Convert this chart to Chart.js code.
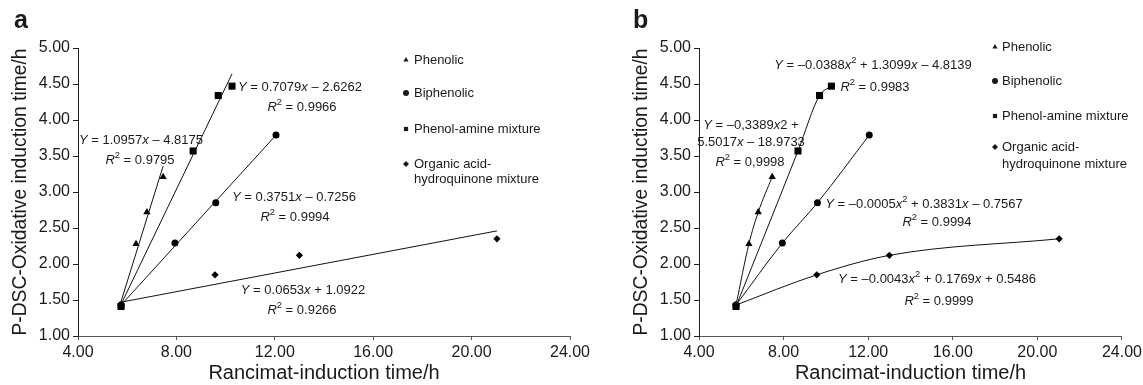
<!DOCTYPE html>
<html>
<head>
<meta charset="utf-8">
<script src="https://cdn.jsdelivr.net/npm/chart.js@4"></script>
<style>
  html, body { margin: 0; padding: 0; background: #fff; overflow: hidden; }
  body { width: 1143px; height: 385px; position: relative; }
  canvas { position: absolute; top: 0; }
  #chartA { left: 0; }
  #chartB { left: 600px; }
</style>
</head>
<body>
<canvas id="chartA" width="600" height="385"></canvas>
<canvas id="chartB" width="545" height="385"></canvas>
<script>
// tick values
const xTicks = [4, 8, 12, 16, 20, 24];
const yTicks = [1, 1.5, 2, 2.5, 3, 3.5, 4, 4.5, 5];

// series names
const seriesNames = ["Phenolic", "Biphenolic", "Phenol-amine mixture", "Organic acid-hydroquinone mixture"];
const legendLines = [["Phenolic"], ["Biphenolic"], ["Phenol-amine mixture"], ["Organic acid-", "hydroquinone mixture"]];

// measured points (Rancimat x, P-DSC y)
const phenolicX = [5.75, 6.36, 6.8, 7.46];
const phenolicY = [1.43, 2.28, 2.72, 3.21];
const biphenolicX = [5.75, 7.94, 9.6, 12.05];
const biphenolicY = [1.43, 2.29, 2.85, 3.79];
const phenolAmineX = [5.75, 8.68, 9.7, 10.26];
const phenolAmineY = [1.41, 3.57, 4.34, 4.47];
const organicX = [5.75, 9.57, 13.0, 21.03];
const organicY = [1.43, 1.85, 2.12, 2.35];

// linear trend lines of panel a, end points
const phenolicLineX = [5.75, 7.46];
const phenolicLineY = [1.48, 3.36];
const biphenolicLineX = [5.75, 12.05];
const biphenolicLineY = [1.43, 3.79];
const phenolAmineLineX = [5.75, 10.26];
const phenolAmineLineY = [1.44, 4.64];
const organicLineX = [5.75, 21.03];
const organicLineY = [1.47, 2.46];

const textColor = "#1a1a1a";
const FONT = '"Liberation Sans", Arial, sans-serif';
Chart.defaults.font.family = FONT;

const pts = (xs, ys) => xs.map((x, i) => ({ x: x, y: ys[i] }));

const styles = [
  { pointStyle: "triangle", radius: 4.2, order: 3 },
  { pointStyle: "circle", radius: 3.5, order: 2 },
  { pointStyle: "rect", radius: 5, order: 0 },
  { pointStyle: "rectRot", radius: 3.6, order: 1 }
];

const pointSets = [
  pts(phenolicX, phenolicY),
  pts(biphenolicX, biphenolicY),
  pts(phenolAmineX, phenolAmineY),
  pts(organicX, organicY)
];
const lineSets = [
  pts(phenolicLineX, phenolicLineY),
  pts(biphenolicLineX, biphenolicLineY),
  pts(phenolAmineLineX, phenolAmineLineY),
  pts(organicLineX, organicLineY)
];

// rich text: *..* italic, ^c superscript
function drawRich(ctx, str, cx, cy, size) {
  const parts = [];
  let italic = false;
  for (let i = 0; i < str.length; i++) {
    const ch = str[i];
    if (ch === "*") { italic = !italic; continue; }
    if (ch === "^") { parts.push({ t: str[++i], it: false, sup: true }); continue; }
    const last = parts[parts.length - 1];
    if (last && last.it === italic && !last.sup) last.t += ch;
    else parts.push({ t: ch, it: italic, sup: false });
  }
  const fontOf = p => (p.it ? "italic " : "") + (p.sup ? size * 0.72 : size) + "px " + FONT;
  let w = 0;
  parts.forEach(p => { ctx.font = fontOf(p); p.w = ctx.measureText(p.t).width; w += p.w; });
  let x = cx - w / 2;
  ctx.textAlign = "left";
  ctx.textBaseline = "middle";
  parts.forEach(p => {
    ctx.font = fontOf(p);
    ctx.fillText(p.t, x, p.sup ? cy - size * 0.38 : cy);
    x += p.w;
  });
}

const notesPlugin = {
  id: "notes",
  afterDraw(chart, args, opts) {
    const ctx = chart.ctx;
    ctx.save();
    ctx.fillStyle = textColor;
    // panel letter
    ctx.font = "bold 25px " + FONT;
    ctx.textAlign = "left";
    ctx.textBaseline = "alphabetic";
    ctx.fillText(opts.letter[0], opts.letter[1], opts.letter[2]);
    // equations
    opts.texts.forEach(t => drawRich(ctx, t[0], t[1], t[2], 13));
    // legend
    const lg = opts.legend;
    legendLines.forEach((lines, i) => {
      const y = lg.rows[i];
      ctx.fillStyle = textColor;
      ctx.strokeStyle = textColor;
      Chart.helpers.drawPoint(ctx, { pointStyle: styles[i].pointStyle, rotation: 0, radius: 3, borderWidth: 0 }, lg.mx, y);
      ctx.font = "13px " + FONT;
      ctx.textAlign = "left";
      ctx.textBaseline = "middle";
      lines.forEach((s, k) => ctx.fillText(s, lg.tx, y + k * lg.gap));
    });
    ctx.restore();
  }
};

function scaleOpts(yWidth, yTitlePad) {
  return {
    x: {
      type: "linear", min: 4, max: 24,
      afterBuildTicks: s => { s.ticks = xTicks.map(v => ({ value: v })); },
      afterFit: s => { s.height = 49; },
      ticks: { callback: v => v.toFixed(2), font: { size: 16 }, color: textColor, padding: 3, maxRotation: 0, autoSkip: false },
      grid: { drawOnChartArea: false, tickLength: 4, color: "#555" },
      border: { color: "#555", width: 1 },
      title: { display: true, text: "Rancimat-induction time/h", font: { size: 20 }, color: textColor, padding: { top: 0, bottom: 0 } }
    },
    y: {
      type: "linear", min: 1, max: 5,
      afterBuildTicks: s => { s.ticks = yTicks.map(v => ({ value: v })); },
      afterFit: s => { s.width = yWidth; },
      ticks: { callback: v => v.toFixed(2), font: { size: 16 }, color: textColor, padding: 3, autoSkip: false },
      grid: { drawOnChartArea: false, tickLength: 5, color: "#222" },
      border: { color: "#222", width: 1 },
      title: { display: true, text: "P-DSC-Oxidative induction time/h", font: { size: 19.3 }, color: textColor, padding: { top: yTitlePad, bottom: 0 } }
    }
  };
}

function pointDatasets(curved) {
  return pointSets.map((d, i) => ({
    label: seriesNames[i],
    data: d,
    order: styles[i].order,
    pointStyle: styles[i].pointStyle,
    pointRadius: styles[i].radius,
    pointBackgroundColor: "#000",
    pointBorderColor: "#000",
    pointBorderWidth: 0,
    showLine: curved,
    borderColor: "#111",
    borderWidth: 1,
    cubicInterpolationMode: "monotone"
  }));
}

// panel a: points + straight trend lines
new Chart(document.getElementById("chartA"), {
  type: "scatter",
  data: {
    datasets: pointDatasets(false).concat(lineSets.map((d, i) => ({
      label: seriesNames[i] + " fit",
      data: d,
      order: 10,
      showLine: true,
      pointRadius: 0,
      borderColor: "#111",
      borderWidth: 1
    })))
  },
  options: {
    responsive: false,
    animation: false,
    layout: { padding: { left: 0, top: 48, right: 30, bottom: 0 } },
    plugins: {
      legend: { display: false },
      tooltip: { enabled: false },
      notes: {
        letter: ["a", 14, 28],
        texts: [
          ["*Y* = 1.0957*x* – 4.8175", 141, 140],
          ["*R*^2 = 0.9795", 140, 160],
          ["*Y* = 0.7079*x* – 2.6262", 300, 87],
          ["*R*^2 = 0.9966", 302, 107],
          ["*Y* = 0.3751*x* – 0.7256", 294, 197],
          ["*R*^2 = 0.9994", 295, 217],
          ["*Y* = 0.0653*x* + 1.0922", 303, 290],
          ["*R*^2 = 0.9266", 302, 310]
        ],
        legend: { mx: 406, tx: 414, rows: [60, 93, 129, 164], gap: 15 }
      }
    },
    scales: scaleOpts(78, 8.6)
  },
  plugins: [notesPlugin]
});

// panel b: points joined by smooth curves
new Chart(document.getElementById("chartB"), {
  type: "scatter",
  data: { datasets: pointDatasets(true) },
  options: {
    responsive: false,
    animation: false,
    layout: { padding: { left: 0, top: 48, right: 21, bottom: 0 } },
    plugins: {
      legend: { display: false },
      tooltip: { enabled: false },
      notes: {
        letter: ["b", 33, 28],
        texts: [
          ["*Y* = –0.0388*x*^2 + 1.3099*x* – 4.8139", 273, 65],
          ["*R*^2 = 0.9983", 275, 87],
          ["*Y* = –0,3389*x*2 +", 151, 125],
          ["5.5017*x* – 18.9733", 151, 142],
          ["*R*^2 = 0,9998", 150, 162],
          ["*Y* = –0.0005*x*^2 + 0.3831*x* – 0.7567", 324, 204],
          ["*R*^2 = 0.9994", 337, 222],
          ["*Y* = –0.0043*x*^2 + 0.1769*x* + 0.5486", 337, 279],
          ["*R*^2 = 0.9999", 339, 301]
        ],
        legend: { mx: 395, tx: 402, rows: [47, 81, 116, 147], gap: 17 }
      }
    },
    scales: scaleOpts(99, 29.6)
  },
  plugins: [notesPlugin]
});
</script>
</body>
</html>
